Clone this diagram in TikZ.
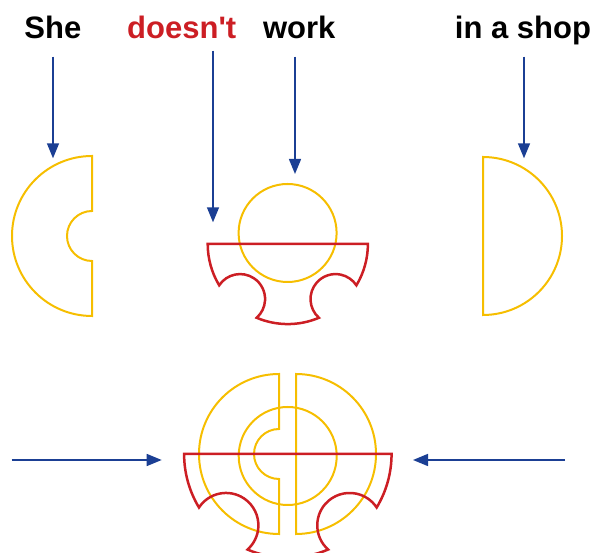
\documentclass[tikz,border=0pt]{standalone}
\usepackage{fontspec}
\newfontfamily\lab[Ligatures=TeXOff]{Liberation Sans}
\usetikzlibrary{arrows.meta}
\definecolor{ylw}{RGB}{246,190,0}
\definecolor{rd}{RGB}{204,30,36}
\definecolor{bl}{RGB}{27,63,148}
\tikzset{
  word/.style={anchor=base, inner sep=0pt, font=\lab\fontsize{31}{36}\selectfont\bfseries},
  yshape/.style={draw=ylw, line width=2pt, line join=miter},
  rshape/.style={draw=rd, line width=2.5pt, line join=miter},
  pointer/.style={draw=bl, line width=1.5pt, -{Triangle[width=12pt,length=15pt]}},
}
\newcommand{\redpiece}{%
  (-80,0) arc[start angle=180, end angle=211.1, radius=80]
  arc[start angle=146.6, end angle=-48.4, radius=25]
  arc[start angle=247.1, end angle=292.9, radius=80]
  arc[start angle=228.4, end angle=33.4, radius=25]
  arc[start angle=328.9, end angle=360, radius=80] -- cycle}
\begin{document}
\begin{tikzpicture}[x=1pt,y=1pt]
\useasboundingbox (0,0) rectangle (602,553);
\clip (0,0) rectangle (602,553);
% words
\node[word] (she) at (52.9,514.7) {She};
\node[word, text=rd] (doesnt) at (181.7,514.7) {doesn't};
\node[word] (work) at (299.2,514.7) {work};
\node[word] (shop) at (523,514.7) {in a shop};
% top shapes
\draw[yshape] (92,397) arc[start angle=90, end angle=270, radius=80] -- (92,292)
  arc[start angle=270, end angle=90, radius=25] -- cycle;
\draw[yshape] (483,396) arc[start angle=90, end angle=-90, radius=79] -- cycle;
\draw[yshape] (287.6,320) circle[radius=49];
\begin{scope}[shift={(287.7,309)}]
  \draw[rshape] \redpiece;
\end{scope}
% combined shapes
\draw[yshape] (279,179) arc[start angle=90, end angle=270, radius=80] -- (279,74)
  arc[start angle=270, end angle=90, radius=25] -- cycle;
\draw[yshape] (296,179) arc[start angle=90, end angle=-90, radius=80] -- cycle;
\draw[yshape] (287.7,97) circle[radius=49];
\begin{scope}[shift={(287.7,99)}, scale=1.295]
  \draw[rshape] \redpiece;
\end{scope}
% arrows
\coordinate (sheS) at (53,496.3);
\coordinate (sheE) at (53,394.7);
\coordinate (doS) at (213,502.3);
\coordinate (doE) at (213,330.7);
\coordinate (woS) at (295,496.3);
\coordinate (woE) at (295,379);
\coordinate (shS) at (524,496.3);
\coordinate (shE) at (524,394.7);
\coordinate (lS) at (11.7,93);
\coordinate (lE) at (161.7,93);
\coordinate (rS) at (565,93);
\coordinate (rE) at (413,93);
\draw[pointer] (sheS) -- (sheE);
\draw[pointer] (doS) -- (doE);
\draw[pointer] (woS) -- (woE);
\draw[pointer] (shS) -- (shE);
\draw[pointer] (lS) -- (lE);
\draw[pointer] (rS) -- (rE);
\end{tikzpicture}
\end{document}
